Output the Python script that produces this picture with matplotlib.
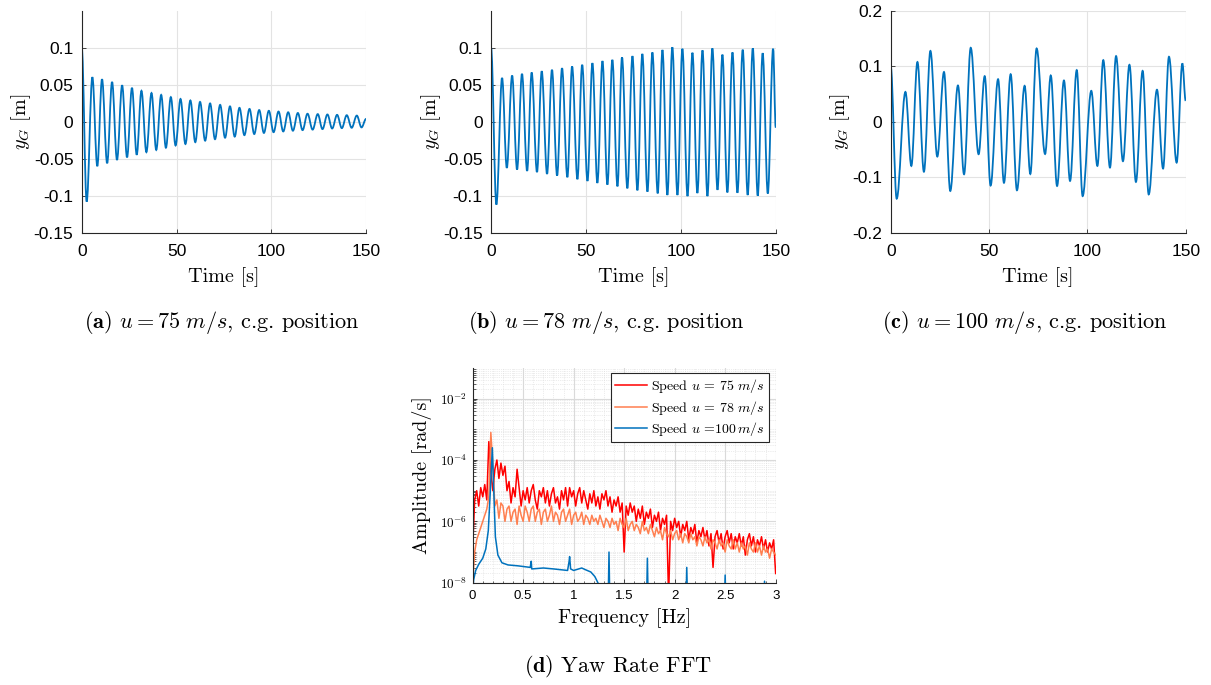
import numpy as np
import matplotlib
matplotlib.use("Agg")
import matplotlib.pyplot as plt
from matplotlib.path import Path
from matplotlib.patches import PathPatch
from matplotlib.ticker import FixedLocator, NullFormatter

plt.rcParams['font.family'] = 'Liberation Sans'
plt.rcParams['mathtext.fontset'] = 'cm'
plt.rcParams['axes.unicode_minus'] = False

BLUE = '#0072BD'
RED = '#FF0000'
ORANGE = '#FF7F50'
GRID = '#E3E3E3'
AXC = '#262626'
SERIF = 'cmr10'

# (a) u = 75 m/s : extrema of y_G
a_time = [0, 2.6, 5.6, 8.2, 10.7, 13.4, 16.0, 18.6, 21.3, 23.9, 26.5, 29.0, 31.5, 34.1,
          36.8, 39.3, 41.9, 44.4, 47.0, 49.5, 52.1, 54.7, 57.3, 59.9, 62.4, 65.1, 67.7,
          70.3, 73.0, 75.6, 78.2, 80.7, 83.2, 85.8, 88.5, 91.0, 93.6, 96.1, 98.7, 101.2,
          103.8, 106.3, 108.9, 111.4, 114.0, 116.5, 119.1, 121.8, 124.5, 127.0, 129.6,
          132.1, 134.7, 137.2, 139.8, 142.4, 145.1, 147.6, 150.0]
a_yg = [0.1, -0.108, 0.0605, -0.060, 0.0577, -0.056, 0.054, -0.0515, 0.0495, -0.048,
        0.046, -0.0445, 0.042, -0.041, 0.039, -0.038, 0.0365, -0.035, 0.0335, -0.032,
        0.031, -0.030, 0.029, -0.0275, 0.027, -0.0255, 0.025, -0.0235, 0.023, -0.0215,
        0.021, -0.020, 0.019, -0.018, 0.0175, -0.0165, 0.016, -0.015, 0.015, -0.014,
        0.014, -0.013, 0.013, -0.012, 0.012, -0.0112, 0.011, -0.0105, 0.0105, -0.0098,
        0.010, -0.009, 0.0095, -0.0085, 0.009, -0.008, 0.0085, -0.0075, 0.004]

# (b) u = 78 m/s
b_time = [0, 2.8, 5.8, 8.3, 11.1, 13.7, 16.3, 19.0, 21.4, 24.2, 26.7, 29.5, 32.1, 34.8,
          37.4, 40.2, 42.7, 45.5, 48.0, 50.8, 53.4, 56.0, 58.7, 61.3, 63.9, 66.6, 69.0,
          71.8, 74.5, 77.1, 79.7, 82.4, 85.0, 87.8, 90.3, 92.9, 95.5, 98.2, 100.8, 103.5,
          106.1, 108.7, 111.4, 114.0, 116.6, 119.3, 121.9, 124.5, 127.2, 129.8, 132.6,
          135.2, 137.9, 140.5, 143.1, 145.8, 148.6, 150.0]
b_yg = [0.1, -0.112, 0.0595, -0.0623, 0.0627, -0.0645, 0.065, -0.0664, 0.0668, -0.068,
        0.0686, -0.0705, 0.0705, -0.0727, 0.0727, -0.075, 0.075, -0.0777, 0.0773, -0.080,
        0.0795, -0.0827, 0.0823, -0.085, 0.084, -0.0873, 0.0873, -0.090, 0.089, -0.0927,
        0.092, -0.0945, 0.094, -0.0968, 0.0973, -0.099, 0.101, -0.099, 0.099, -0.1005,
        0.0936, -0.0964, 0.0968, -0.1005, 0.0995, -0.092, 0.091, -0.0955, 0.094, -0.096,
        0.0977, -0.099, 0.0995, -0.100, 0.093, -0.097, 0.099, -0.008]

# (c) u = 100 m/s
c_time = [0, 3.05, 7.5, 10.5, 13.6, 16.9, 20.2, 23.7, 27.1, 30.3, 34.2, 37.3, 40.7, 44.7,
          47.8, 50.8, 54.6, 57.6, 61.0, 64.2, 68.1, 71.0, 74.2, 78.5, 81.4, 84.6, 88.1,
          91.2, 94.6, 97.6, 102.0, 105.1, 108.1, 111.5, 114.6, 118.1, 121.4, 124.7, 128.1,
          131.2, 135.4, 138.5, 141.5, 145.4, 148.3, 150.0]
c_yg = [0.1, -0.1386, 0.054, -0.0795, 0.108, -0.09, 0.128, -0.0627, 0.09, -0.1247,
        0.0657, -0.0946, 0.1337, -0.0584, 0.0825, -0.115, 0.077, -0.110, 0.086, -0.1235,
        0.065, -0.094, 0.1325, -0.058, 0.0837, -0.1157, 0.0747, -0.1066, 0.0934, -0.134,
        0.056, -0.0795, 0.1114, -0.0825, 0.1187, -0.071, 0.103, -0.1084, 0.092, -0.131,
        0.058, -0.0843, 0.1175, -0.0735, 0.1054, 0.038]

# (d) yaw rate FFT, log10 amplitude on a 0.02 Hz grid from 0 to 3 Hz
fft75_log = [-6.9, -5.3, -5.0, -5.5, -4.9, -5.2, -4.8, -5.3, -3.4, -4.4,
             -5.0, -4.3, -4.0, -4.6, -4.1, -4.5, -4.2, -5.0, -4.7, -5.4,
             -4.9, -5.2, -4.3, -4.9, -5.5, -5.0, -5.3, -4.9, -5.4, -5.0,
             -4.8, -5.3, -5.6, -5.0, -5.2, -4.9, -5.4, -5.0, -5.5, -5.1,
             -4.9, -5.4, -5.2, -5.6, -5.0, -5.3, -4.9, -5.5, -4.9, -5.2,
             -5.0, -5.5, -5.1, -4.9, -5.4, -5.0, -5.3, -5.6, -5.1, -5.4,
             -5.0, -5.5, -5.2, -5.6, -5.1, -5.3, -5.0, -5.5, -5.2, -5.7,
             -5.3, -5.5, -5.2, -5.7, -5.4, -7.0, -5.5, -5.8, -5.4, -5.7,
             -5.5, -6.0, -5.6, -5.9, -5.5, -6.1, -5.7, -5.9, -5.6, -6.2,
             -5.8, -6.0, -5.7, -6.3, -5.9, -6.1, -5.8, -8.5, -6.0, -6.3,
             -5.9, -6.2, -6.0, -6.5, -6.1, -6.3, -6.0, -6.6, -6.2, -6.4,
             -6.1, -6.7, -6.3, -6.5, -6.2, -6.6, -6.3, -6.8, -6.4, -7.5,
             -6.5, -6.3, -6.7, -6.4, -6.9, -6.5, -6.3, -6.7, -6.4, -6.9,
             -6.5, -6.7, -6.4, -6.8, -6.5, -7.1, -6.6, -6.4, -6.8, -6.5,
             -7.0, -6.6, -6.8, -6.5, -6.9, -6.6, -7.0, -6.7, -6.9, -6.6,
             -7.7]
fft78_log = [-8.0, -7.0, -6.6, -6.4, -6.2, -6.0, -5.8, -5.6, -5.2, -3.1,
             -4.2, -5.5, -5.3, -5.9, -5.4, -5.5, -6.0, -5.6, -5.5, -6.0,
             -5.7, -5.6, -6.1, -5.5, -5.8, -6.0, -5.5, -5.7, -6.0, -5.6,
             -5.5, -6.0, -5.7, -5.6, -6.1, -5.7, -5.6, -6.0, -5.8, -5.5,
             -6.0, -5.7, -5.8, -6.1, -5.7, -5.6, -6.0, -5.8, -5.6, -6.1,
             -5.8, -5.7, -6.0, -5.9, -5.7, -6.1, -5.8, -5.9, -6.1, -5.8,
             -6.0, -5.9, -6.1, -5.8, -6.0, -6.2, -5.9, -6.0, -6.2, -5.9,
             -6.1, -6.0, -6.3, -5.9, -6.1, -6.2, -5.9, -6.3, -6.1, -6.0,
             -6.3, -6.1, -6.2, -6.4, -6.0, -6.3, -6.2, -6.4, -6.1, -6.3,
             -6.5, -6.2, -6.4, -6.3, -6.6, -6.2, -6.4, -6.5, -6.3, -6.6,
             -6.4, -6.3, -6.6, -6.4, -6.7, -6.4, -6.5, -6.7, -6.4, -6.6,
             -6.5, -6.8, -6.5, -6.6, -6.8, -6.5, -6.7, -6.6, -6.9, -6.6,
             -6.7, -6.9, -6.6, -6.8, -6.7, -7.0, -6.6, -6.8, -6.9, -6.6,
             -6.9, -6.7, -7.0, -6.7, -6.9, -6.8, -7.1, -6.7, -6.9, -7.0,
             -6.7, -7.0, -6.8, -7.1, -6.8, -7.0, -6.9, -7.2, -6.9, -7.0,
             -7.1]
fft100_freq = [0.0, 0.01, 0.03, 0.06, 0.10, 0.13, 0.155, 0.175, 0.195, 0.21, 0.225, 0.25,
               0.29, 0.35, 0.45, 0.57, 0.58, 0.585, 0.70, 0.80, 0.94, 0.955, 0.96, 0.97,
               1.00, 1.05, 1.08, 1.12, 1.17, 1.21, 1.24, 1.26, 1.30, 1.34, 1.35, 1.36,
               1.72, 1.73, 1.74, 2.11, 2.12, 2.13, 2.49, 2.50, 2.51, 2.88, 2.89, 2.90, 3.0]
fft100_log = [-8.3, -7.9, -7.6, -7.4, -7.2, -6.9, -6.3, -5.0, -3.6, -5.1, -6.5, -7.1,
              -7.35, -7.42, -7.45, -7.5, -7.3, -7.55, -7.52, -7.55, -7.6, -7.3, -7.15, -7.55,
              -7.6, -7.55, -7.52, -7.58, -7.65, -7.8, -8.0, -8.2, -9.0, -9.0, -7.0, -9.0,
              -9.0, -7.2, -9.0, -9.0, -7.5, -9.0, -9.0, -7.75, -9.0, -9.0, -7.95, -9.0, -9.0]

fft_freq = np.linspace(0, 3, len(fft75_log))


def wave_path(t, y, k=0.3642):
    """Smooth curve through the extrema: cubic segments with flat tangents at each point."""
    verts = [(t[0], y[0])]
    codes = [Path.MOVETO]
    for i in range(len(t) - 1):
        h = t[i + 1] - t[i]
        verts += [(t[i] + k * h, y[i]), (t[i + 1] - k * h, y[i + 1]), (t[i + 1], y[i + 1])]
        codes += [Path.CURVE4] * 3
    return Path(verts, codes)


def style_axes(ax, size, pad):
    for side in ['top', 'right']:
        ax.spines[side].set_visible(False)
    for side in ['left', 'bottom']:
        ax.spines[side].set_color(AXC)
        ax.spines[side].set_linewidth(0.8)
    ax.tick_params(direction='in', length=3, width=0.6, color=AXC,
                   labelsize=size, labelcolor='black', pad=pad)
    ax.tick_params(which='minor', direction='in', length=1.8, width=0.5, color=AXC)
    ax.set_axisbelow(True)


fig = plt.figure(figsize=(12.11, 6.85), dpi=100)

panels = [
    (0.0675, 0.2348, a_time, a_yg, (-0.15, 0.15), [-0.15, -0.1, -0.05, 0, 0.05, 0.1],
     ['-0.15', '-0.1', '-0.05', '0', '0.05', '0.1'], -0.17),
    (0.4055, 0.2351, b_time, b_yg, (-0.15, 0.15), [-0.15, -0.1, -0.05, 0, 0.05, 0.1],
     ['-0.15', '-0.1', '-0.05', '0', '0.05', '0.1'], -0.17),
    (0.7355, 0.2436, c_time, c_yg, (-0.2, 0.2), [-0.2, -0.1, 0, 0.1, 0.2],
     ['-0.2', '-0.1', '0', '0.1', '0.2'], -0.13),
]
for left, width, t, y, ylim, yt, ytl, lx in panels:
    ax = fig.add_axes([left, 0.6603, width, 0.3236])
    ax.add_patch(PathPatch(wave_path(t, y), facecolor='none', edgecolor=BLUE, lw=1.3))
    ax.set_xlim(0, 150)
    ax.set_ylim(*ylim)
    ax.set_xticks([0, 50, 100, 150])
    ax.set_xticklabels(['0', '50', '100', '150'])
    ax.set_yticks(yt)
    ax.set_yticklabels(ytl)
    ax.grid(True, color=GRID, lw=0.8)
    style_axes(ax, 12.5, 6)
    ax.tick_params(axis='x', pad=8)
    ax.set_xlabel('Time [s]', fontfamily=SERIF, fontsize=14.5, labelpad=6)
    ax.set_ylabel(r'$y_G$ [m]', fontfamily=SERIF, fontsize=14.5)
    ax.yaxis.set_label_coords(lx, 0.5)

# (d) FFT
axd = fig.add_axes([0.3903, 0.1493, 0.2502, 0.3135])
axd.semilogy(fft_freq, 10.0 ** np.array(fft75_log), color=RED, lw=1.1,
             label=r'Speed $u$ = 75 $m/s$')
axd.semilogy(fft_freq, 10.0 ** np.array(fft78_log), color=ORANGE, lw=1.1,
             label=r'Speed $u$ = 78 $m/s$')
axd.semilogy(fft100_freq, 10.0 ** np.array(fft100_log), color=BLUE, lw=1.1,
             label=r'Speed $u$ =100$\,m/s$')
axd.set_xlim(0, 3)
axd.set_ylim(1e-8, 1e-1)
axd.set_xticks([0, 0.5, 1, 1.5, 2, 2.5, 3])
axd.set_xticklabels(['0', '0.5', '1', '1.5', '2', '2.5', '3'])
axd.xaxis.set_minor_locator(FixedLocator(np.arange(0, 3.01, 0.1)))
major_y = [1e-8, 1e-6, 1e-4, 1e-2]
axd.yaxis.set_major_locator(FixedLocator(major_y))
axd.set_yticklabels([r'$\mathsf{10^{-8}}$', r'$\mathsf{10^{-6}}$',
                     r'$\mathsf{10^{-4}}$', r'$\mathsf{10^{-2}}$'])
minor_y = [m * 10.0 ** e for e in range(-8, -1) for m in range(1, 10)]
axd.yaxis.set_minor_locator(FixedLocator(minor_y))
axd.yaxis.set_minor_formatter(NullFormatter())
axd.grid(True, which='major', color='#DADADA', lw=0.8)
axd.grid(True, which='minor', color='#DADADA', lw=0.5, ls=':')
style_axes(axd, 9.5, 5)
axd.tick_params(axis='y', labelsize=9.5, pad=4)
axd.set_xlabel('Frequency [Hz]', fontfamily=SERIF, fontsize=14.5, labelpad=5)
axd.set_ylabel('Amplitude [rad/s]', fontfamily=SERIF, fontsize=14.5)
axd.yaxis.set_label_coords(-0.135, 0.5)
leg = axd.legend(loc='upper right', bbox_to_anchor=(0.978, 0.977), borderaxespad=0,
                 prop={'family': SERIF, 'size': 10}, fancybox=False, framealpha=1,
                 edgecolor=AXC, handlelength=2.3, handletextpad=0.3, labelspacing=0.25,
                 borderpad=0.3)
leg.get_frame().set_linewidth(0.8)

# captions
cap_y = 1 - 323 / 685
fig.text(0.1833, cap_y, r'$\mathbf{(a)}$ $u = 75\ m/s$, c.g. position',
         ha='center', va='center', fontfamily=SERIF, fontsize=16)
fig.text(0.5004, cap_y, r'$\mathbf{(b)}$ $u = 78\ m/s$, c.g. position',
         ha='center', va='center', fontfamily=SERIF, fontsize=16)
fig.text(0.8464, cap_y, r'$\mathbf{(c)}$ $u = 100\ m/s$, c.g. position',
         ha='center', va='center', fontfamily=SERIF, fontsize=16)
fig.text(0.5103, 1 - 666 / 685, r'$\mathbf{(d)}$ Yaw Rate FFT',
         ha='center', va='center', fontfamily=SERIF, fontsize=16)

fig.savefig('out.png', dpi=100)
